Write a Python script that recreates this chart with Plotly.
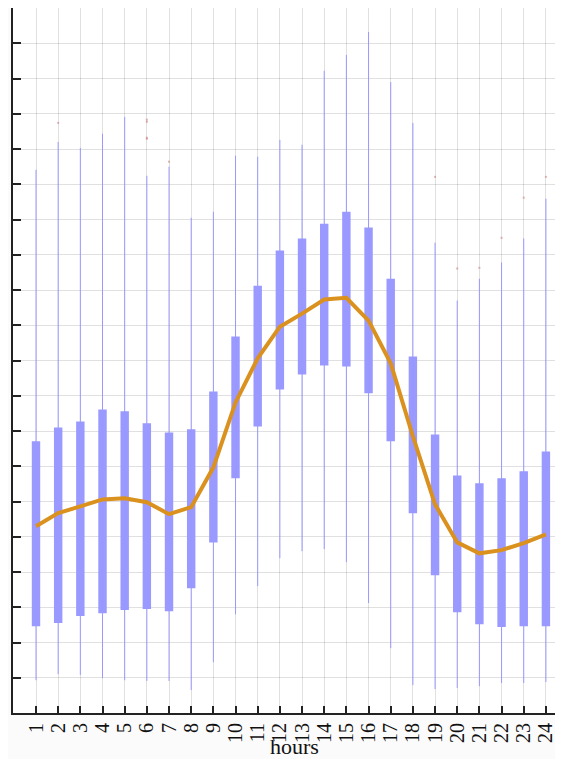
import plotly.graph_objects as go

hours = list(range(1, 25))
whisker_hi = [15.41, 16.20, 16.03, 16.43, 16.91, 15.24, 15.50, 14.05, 14.22, 15.81, 15.78, 16.26,
              16.12, 18.22, 18.67, 19.32, 17.90, 16.74, 13.34, 11.70, 12.32, 12.78, 13.46, 14.59]
q3 = [7.71, 8.10, 8.27, 8.61, 8.56, 8.22, 7.96, 8.05, 9.12, 10.68, 12.12, 13.12,
      13.46, 13.88, 14.22, 13.77, 12.32, 10.11, 7.90, 6.74, 6.52, 6.66, 6.86, 7.42]
q1 = [2.46, 2.55, 2.75, 2.83, 2.92, 2.95, 2.89, 3.54, 4.84, 6.66, 8.13, 9.18,
      9.60, 9.86, 9.83, 9.07, 7.71, 5.67, 3.91, 2.86, 2.52, 2.44, 2.46, 2.46]
whisker_lo = [0.93, 1.10, 1.08, 0.99, 0.93, 0.91, 0.91, 0.65, 1.44, 2.80, 3.60, 4.39,
              4.59, 4.65, 4.28, 3.12, 1.84, 0.79, 0.68, 0.71, 0.76, 0.85, 0.85, 0.88]
mean = [5.30, 5.67, 5.86, 6.06, 6.09, 5.98, 5.64, 5.84, 6.97, 8.81, 10.06, 10.96,
        11.33, 11.73, 11.78, 11.13, 9.92, 7.85, 5.92, 4.84, 4.53, 4.62, 4.82, 5.07]
outlier_x = [2, 6, 6, 6, 6, 7, 19, 20, 21, 22, 23, 24]
outlier_y = [16.74, 16.83, 16.77, 16.32, 16.29, 15.64, 15.21, 12.61, 12.63, 13.48, 14.62, 15.21]
tick_labels = [str(h) for h in hours]

BOX = "rgb(153,153,255)"
MEAN = "rgb(218,145,30)"
FONT = "Liberation Serif"

wx, wy = [], []
for h, lo, hi in zip(hours, whisker_lo, whisker_hi):
    wx += [h, h, None]
    wy += [lo, hi, None]

fig = go.Figure()
fig.add_trace(go.Scatter(x=wx, y=wy, mode="lines",
                         line=dict(color=BOX, width=1), hoverinfo="skip"))
fig.add_trace(go.Bar(x=hours, y=[a - b for a, b in zip(q3, q1)], base=q1,
                     width=0.38, marker=dict(color=BOX, line=dict(width=0))))
fig.add_trace(go.Scatter(x=hours, y=mean, mode="lines",
                         line=dict(color=MEAN, width=4)))
fig.add_trace(go.Scatter(x=outlier_x, y=outlier_y, mode="markers",
                         marker=dict(symbol="square", size=2, color="rgba(200,120,120,0.55)",
                                     line=dict(width=0))))

fig.update_layout(
    width=547, height=751,
    margin=dict(l=5, r=0, t=0, b=46, autoexpand=False),
    paper_bgcolor="#fbfbfb", plot_bgcolor="white",
    showlegend=False,
    font=dict(family=FONT, color="black"),
    annotations=[dict(text="hours", xref="paper", yref="paper",
                      x=(294 - 13) / 542, y=-(746 - 713) / 705,
                      xanchor="center", yanchor="middle", showarrow=False,
                      font=dict(family=FONT, size=22, color="#111"))],
)
fig.update_xaxes(range=[-0.0375, 24.41], tickmode="array", tickvals=hours, ticktext=tick_labels,
                 tickangle=-90, tickfont=dict(family=FONT, size=20, color="#111"),
                 ticks="inside", ticklen=7, tickwidth=2, tickcolor="#222",
                 showline=True, linecolor="#222", linewidth=2,
                 showgrid=True, gridcolor="rgba(0,0,0,0.12)", gridwidth=1,
                 zeroline=False, ticklabeloverflow="allow", automargin=False)
fig.update_yaxes(range=[0, 20], tickmode="linear", tick0=0, dtick=1,
                 showticklabels=False,
                 ticks="inside", ticklen=8, tickwidth=2, tickcolor="#222",
                 showline=True, linecolor="#222", linewidth=2,
                 showgrid=True, gridcolor="rgba(0,0,0,0.12)", gridwidth=1,
                 zeroline=False, automargin=False)

fig.write_html("out.html")
